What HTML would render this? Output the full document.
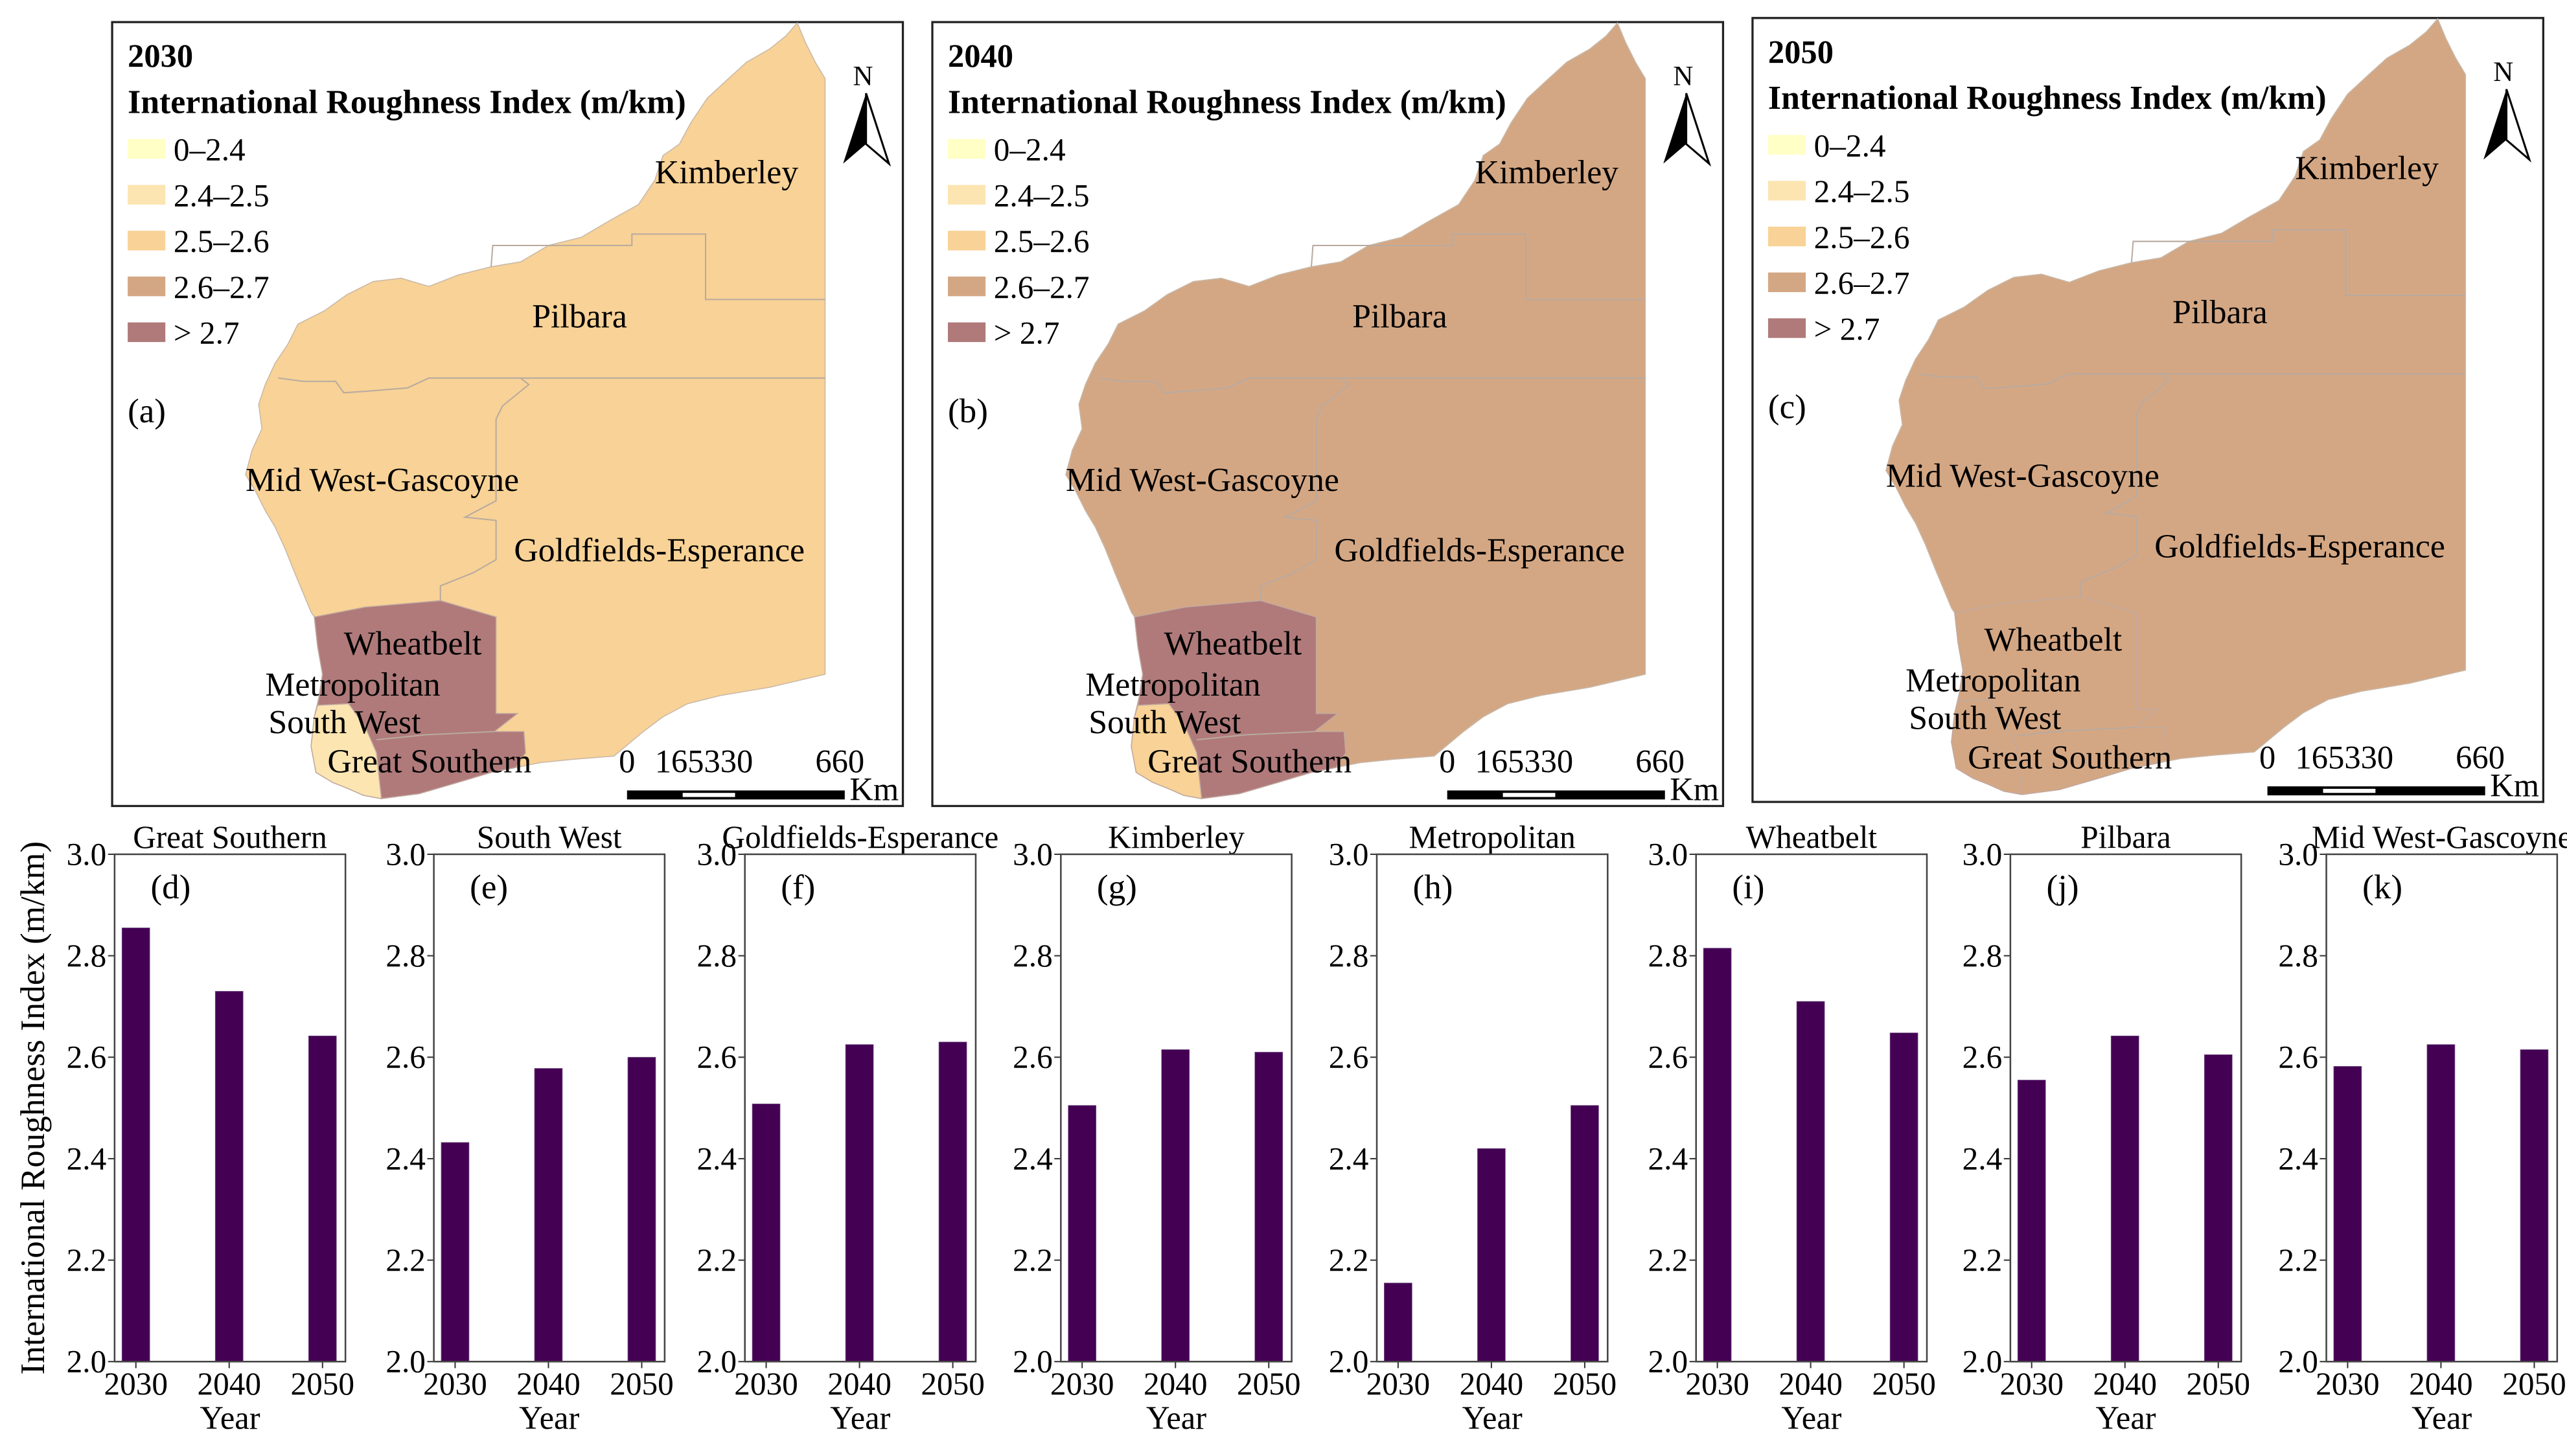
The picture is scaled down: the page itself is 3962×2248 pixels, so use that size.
<!DOCTYPE html>
<html><head><meta charset="utf-8">
<style>
html,body{margin:0;padding:0;background:#fff;}
svg, svg text{font-family:"Liberation Serif","DejaVu Serif",serif;}
</style></head>
<body>
<svg id="fig" font-family="Liberation Serif, DejaVu Serif, serif" width="3962" height="2243" viewBox="0 0 1568 887.7" preserveAspectRatio="none" xmlns="http://www.w3.org/2000/svg">
</svg>
<script>
// ---- chart data ----
const regions = ["Great Southern","South West","Goldfields-Esperance","Kimberley","Metropolitan","Wheatbelt","Pilbara","Mid West-Gascoyne"];
const panelLetters = ["(d)","(e)","(f)","(g)","(h)","(i)","(j)","(k)"];
const years = ["2030","2040","2050"];
const vals2030 = [2.855,2.432,2.508,2.505,2.155,2.815,2.555,2.582];
const vals2040 = [2.730,2.578,2.625,2.615,2.420,2.710,2.642,2.625];
const vals2050 = [2.642,2.600,2.630,2.610,2.505,2.648,2.605,2.615];
const yTicks = [2.0,2.2,2.4,2.6,2.8,3.0];
const yTickLabels = ["2.0","2.2","2.4","2.6","2.8","3.0"];
const legendLabels = ["0–2.4","2.4–2.5","2.5–2.6","2.6–2.7","> 2.7"];
const mapYears = ["2030","2040","2050"];
const mapLetters = ["(a)","(b)","(c)"];

const NS="http://www.w3.org/2000/svg";
const svg=document.getElementById('fig');
const FF='Liberation Serif, DejaVu Serif, serif';
function mk(tag,attrs,parent,text){const e=document.createElementNS(NS,tag);for(const k in attrs)e.setAttribute(k,attrs[k]);if(tag==='text')e.setAttribute('font-family',FF);if(text!==undefined)e.textContent=text;(parent||svg).appendChild(e);return e;}

const colors=["#ffffc6","#fce5b1","#f8d296","#d4a784","#b07a7a"];
// ---- maps ----
const outline="M487,14 L480,22 470,30 456,38 445,48 432,60 422,75 415,88 405,95 400,110 390,125 372,135 355,145 335,150 318,160 300,163 280,168 262,175 245,170 228,172 212,180 198,190 182,198 176,210 168,222 162,235 158,247 160,262 154,275 150,290 156,300 162,312 168,322 174,335 180,350 185,362 190,374 192,377 194,395 197,412 195,425 192,438 190,456 193,472 203,478 213,482 222,486 233,488 256,485 280,478 300,472 315,469 330,466 350,464 375,462 393,447 405,438 420,430 440,425 470,420 504,412 L504,48 L498,38 492,26 Z";
const wheat="M192,377 L223,371 269,367 303,377 303,436 316,436 302,447 320,447 321,460 315,469 300,472 280,478 256,485 233,488 231,470 230,460 223,444 213,430 194,431 195,425 197,412 194,395 Z";
const sw="M194,431 L213,430 223,444 230,460 231,470 233,488 222,486 213,482 203,478 193,472 190,456 192,438 Z";
const lines=["M300,163 L301,150 386,150 386,143 431,143 431,183 504,183",
"M170,231 L185,233 205,233 210,240 225,239 249,237 262,231 318,231 504,231",
"M318,231 L323,235 307,248 303,256 303,306 284,316 303,318 303,342 289,350 269,358 269,367",
"M230,452 L260,449 302,447"];
const mapCfg=[{dx:0,dy:0,base:2,wh:4,sw:1},{dx:501,dy:0,base:3,wh:4,sw:2},{dx:1002,dy:-2.5,base:3,wh:3,sw:3}];
mapCfg.forEach((c,i)=>{
  const g=mk('g',{transform:`translate(${c.dx},${c.dy})`});
  
  
  mk('rect',{x:68.5,y:13.5,width:483,height:479,fill:'#fff',stroke:'#222','stroke-width':1.3},g);
  const o=mk('path',{d:outline,fill:colors[c.base],stroke:'#c8b8a8','stroke-width':0.6},g);
  
  
  const w=mk('path',{d:wheat,fill:colors[c.wh],stroke:'#c0a8a0','stroke-width':0.6},g);
  
  
  const s=mk('path',{d:sw,fill:colors[c.sw],stroke:'#c0a8a0','stroke-width':0.6},g);
  
  
  lines.forEach(d=>mk('path',{d:d,fill:'none',stroke:'#b8aaa0','stroke-width':0.8},g));
  mk('text',{x:78,y:41,'font-size':20,'font-weight':'bold'},g,mapYears[i]);
  mk('text',{x:78,y:69,'font-size':20.5,'font-weight':'bold'},g,'International Roughness Index (m/km)');
  legendLabels.forEach((l,j)=>{
    const y=85+j*28;
    const r=mk('rect',{x:78,y:y,width:23,height:12,fill:colors[j]},g);
    
    
    mk('text',{x:106,y:y+13,'font-size':19.5},g,l);
  });
  mk('text',{x:78,y:258,'font-size':21},g,mapLetters[i]);
  const lab=[["Kimberley",400,112],["Pilbara",325,200],["Mid West-Gascoyne",150,300],["Goldfields-Esperance",314,343],["Wheatbelt",210,400],["Metropolitan",162,425],["South West",164,448],["Great Southern",200,472]];
  lab.forEach(t=>mk('text',{x:t[1],y:t[2],'font-size':20.5},g,t[0]));
  // north arrow
  mk('text',{x:521,y:52,'font-size':17},g,'N');
  mk('path',{d:"M529,57 L515,100 L529,88 Z",fill:'#000'},g);
  mk('path',{d:"M529,57 L543,100 L529,88 Z",fill:'#fff',stroke:'#000','stroke-width':1.2},g);
  // scale bar
  mk('rect',{x:383,y:483,width:133,height:5.5,fill:'#000'},g);
  mk('rect',{x:417,y:484.5,width:32,height:2.5,fill:'#fff'},g);
  mk('text',{x:378,y:472,'font-size':20},g,'0');
  mk('text',{x:400,y:472,'font-size':20},g,'165330');
  mk('text',{x:498,y:472,'font-size':20},g,'660');
  mk('text',{x:519,y:489,'font-size':20},g,'Km');
});

// ---- bar charts ----
const axLefts=[70,265,455,648,841,1036,1228,1421];
const axW=141, yTop=522, yBot=832;
function yScale(v){return yBot-(v-2.0)/(3.0-2.0)*(yBot-yTop);}
function xScale(k,left){return left+13+k*57;}
const series=[vals2030,vals2040,vals2050];
regions.forEach((reg,i)=>{
  const L=axLefts[i];
  const g=mk('g',{});
  
  
  mk('text',{x:L+axW/2,y:518,'font-size':19.5,'text-anchor':'middle'},g,reg);
  years.forEach((yr,k)=>{
    const v=series[k][i];
    const cx=xScale(k,L);
    const b=mk('rect',{x:cx-8.5,y:yScale(v),width:17,height:yBot-yScale(v),fill:'#440154',stroke:'#7a5a8a','stroke-width':0.3},g);
    
    
    mk('line',{x1:cx,y1:yBot,x2:cx,y2:yBot+4,stroke:'#333','stroke-width':0.8},g);
    mk('text',{x:cx,y:852,'font-size':19.5,'text-anchor':'middle'},g,yr);
  });
  yTicks.forEach((t,j)=>{
    const y=yScale(t);
    mk('line',{x1:L-4,y1:y,x2:L,y2:y,stroke:'#333','stroke-width':0.8},g);
    mk('text',{x:L-5,y:y+6.5,'font-size':19.5,'text-anchor':'end'},g,yTickLabels[j]);
  });
  mk('rect',{x:L,y:yTop,width:axW,height:yBot-yTop,fill:'none',stroke:'#444','stroke-width':1},g);
  mk('text',{x:L+22,y:549,'font-size':21},g,panelLetters[i]);
  mk('text',{x:L+axW/2,y:873,'font-size':20,'text-anchor':'middle'},g,'Year');
});
const yt=mk('text',{x:0,y:0,'font-size':21,'text-anchor':'middle',transform:'translate(27,677) rotate(-90)'},svg,'International Roughness Index (m/km)');


</script>
</body></html>
